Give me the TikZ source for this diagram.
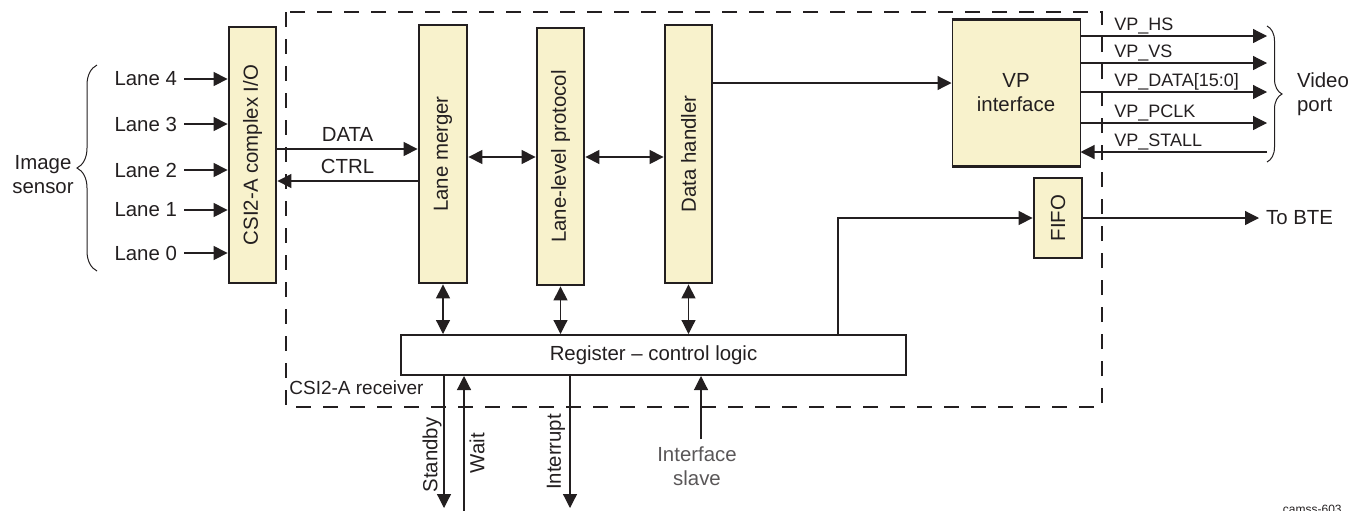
\documentclass[tikz,border=0pt]{standalone}
\usepackage{fontspec}
\setmainfont{Liberation Sans}
\usetikzlibrary{arrows.meta,decorations.pathreplacing}

\definecolor{ink}{HTML}{231F20}
\definecolor{blockfill}{HTML}{F8F2CC}

\tikzset{
  block/.style={draw=ink, line width=1.4pt, fill=blockfill, inner sep=0pt},
  arr/.style={draw=ink, line width=0.6pt, -{Triangle[length=7pt,width=7pt]}},
  dblarr/.style={draw=ink, line width=0.6pt, {Triangle[length=7pt,width=7pt]}-{Triangle[length=7pt,width=7pt]}},
  sig/.style={font=\fontsize{9}{10}\selectfont, anchor=base west, inner sep=0pt},
  curly/.style={draw=ink, line width=0.5pt, decorate, decoration={brace, amplitude=#1}}
}

\begin{document}
\begin{tikzpicture}[x=0.5pt, y=-0.5pt, color=ink, font=\fontsize{10.2}{12}\selectfont]
            \useasboundingbox (0,0) rectangle (1359,510);

            % Draw the dashed receiver frame
            \draw[line width=1.2pt, dash pattern=on 7.5pt off 6pt] (286,12) rectangle (1102,407);
            \node[font=\fontsize{9.5}{11}\selectfont, anchor=base west, inner sep=0pt] (rcv) at (289,394) {CSI2-A receiver};

            % Draw the blocks
            \node[block, minimum width=23.5pt, minimum height=128pt] (csi) at (252.5,155) {\rotatebox{90}{CSI2-A complex I/O}};
            \node[block, minimum width=24pt, minimum height=129pt] (merger) at (443,154) {\rotatebox{90}{Lane merger}};
            \node[block, minimum width=23.5pt, minimum height=128.5pt] (llp) at (560.5,156.5) {\rotatebox{90}{Lane-level protocol}};
            \node[block, minimum width=23.5pt, minimum height=129pt] (handler) at (688.5,154) {\rotatebox{90}{Data handler}};
            \node[block, line width=0.5pt, minimum width=64pt, minimum height=73pt, align=center] (vp) at (1016,93) {VP\\interface};
            \draw[line width=1.4pt] (vp.north west) -- (vp.north east) (vp.south west) -- (vp.south east);
            \node[block, minimum width=24pt, minimum height=40pt] (fifo) at (1058,218) {\rotatebox{90}{FIFO}};
            \node[block, fill=white, line width=1pt, minimum width=252.5pt, minimum height=20pt] (reg) at (653.5,355) {Register – control logic};

            % Add the sensor lanes
            \foreach \n/\yy in {4/79, 3/124, 2/170, 1/210, 0/253} {
                \node[anchor=east] (lane\n) at (184,\yy) {Lane \n};
                \draw[arr] (lane\n.east) -- (lane\n.east -| csi.west);
            }
            \draw[curly=10pt] (97,271) -- (97,65);
            \node[align=center] (sensor) at (43,175) {Image\\sensor};

            % Draw the data path
            \draw[arr] (csi.east |- 0,149) -- (merger.west |- 0,149) node[midway, above] (datalbl) {DATA};
            \draw[arr] (merger.west |- 0,181) -- (csi.east |- 0,181) node[midway, above] (ctrllbl) {CTRL};
            \draw[dblarr] (merger.east |- 0,157) -- (llp.west |- 0,157);
            \draw[dblarr] (llp.east |- 0,157) -- (handler.west |- 0,157);
            \draw[arr] (handler.east |- 0,83) -- (vp.west |- 0,83);

            % Add the video port signals
            \foreach \nm/\yy/\txt in {hs/36/VP\_HS, vs/63/VP\_VS, pdata/92/{VP\_DATA[15:0]}, pclk/123/VP\_PCLK} {
                \coordinate (\nm out) at (1267,\yy);
                \draw[arr] (vp.east |- \nm out) -- (\nm out);
                \node[sig] (\nm) at (1114,\yy-6) {\txt};
            }
            \coordinate (stall in) at (1267,152);
            \draw[arr] (stall in) -- (vp.east |- stall in);
            \node[sig] (stall) at (1114,146) {VP\_STALL};
            \draw[curly=7.5pt] (1267,26) -- (1267,162);
            \node[anchor=west, align=left] (port) at (1290,94) {Video\\port};

            % Draw the FIFO path
            \node[anchor=west] (bte) at (1259,218) {To BTE};
            \draw[arr] (fifo.east) -- (bte.west);
            \draw[arr] (838,0 |- reg.north) |- (fifo.west);

            % Connect the blocks to the register
            \foreach \blk in {merger, llp, handler}
                \draw[dblarr] (\blk.south) -- (\blk.south |- reg.north);

            % Add the control signals
            \coordinate (standby out) at (444,508);
            \draw[arr] (standby out |- reg.south) -- (standby out);
            \node[rotate=90] (standby) at (432,455) {Standby};
            \coordinate (wait in) at (464,514);
            \draw[arr] (wait in) -- (wait in |- reg.south);
            \node[rotate=90] (wait) at (477,453) {Wait};
            \coordinate (irq out) at (570,508);
            \draw[arr] (irq out |- reg.south) -- (irq out);
            \node[rotate=90] (irq) at (556,452) {Interrupt};
            \node[align=center, text=ink!75] (slave) at (697,466) {Interface\\slave};
            \draw[arr] (701,0 |- slave.north) -- (701,0 |- reg.south);

            \node[anchor=north east, font=\fontsize{6}{7}\selectfont, inner sep=0pt] (figid) at (1342,505) {camss-603};

        \end{tikzpicture}
\end{document}
